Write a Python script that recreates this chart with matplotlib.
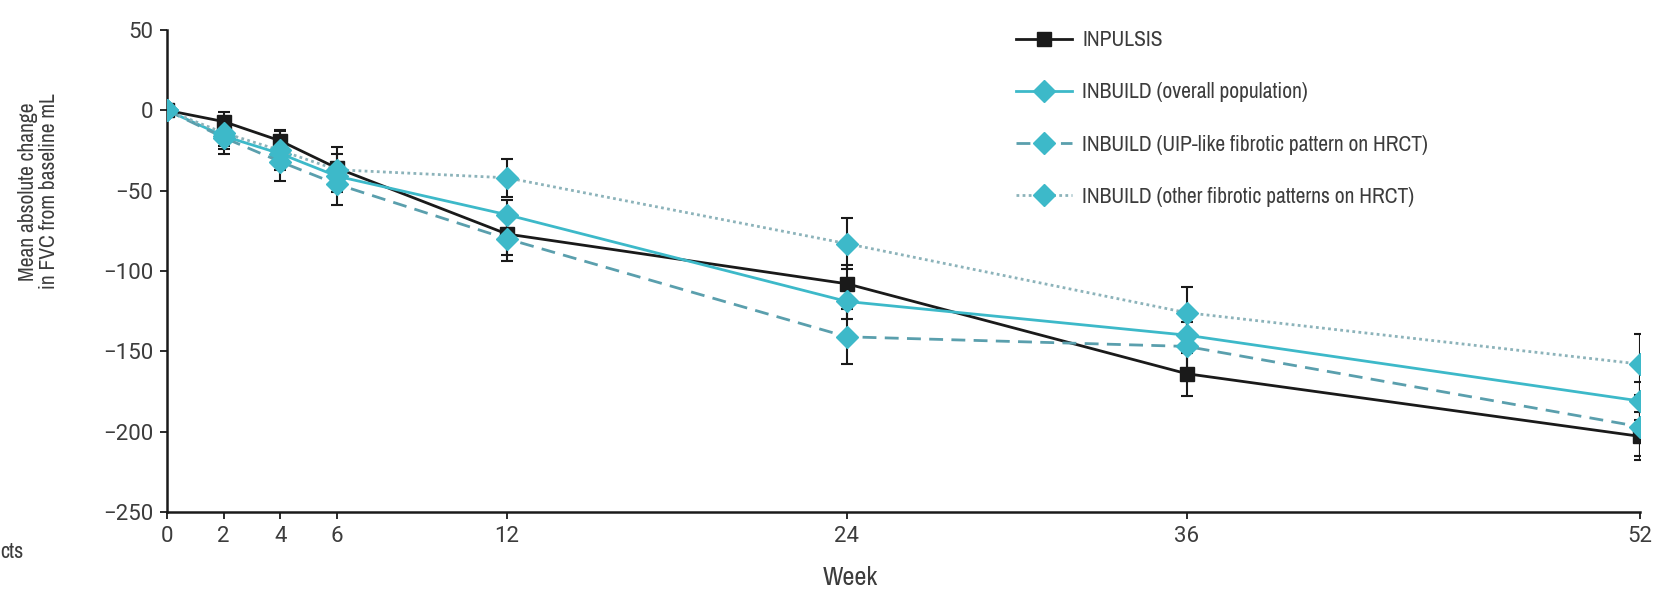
import matplotlib.pyplot as plt
from matplotlib import font_manager

# weeks and mean change in FVC (mL) with standard errors
weeks = [0, 2, 4, 6, 12, 24, 36, 52]

inpulsis = [0, -7, -19, -36, -77, -108, -164, -203]
inpulsis_se = [0, 6, 7, 9, 13, 12, 14, 15]

overall = [0, -16, -27, -41, -65, -119, -140, -181]
overall_se = [0, 6, 7, 8, 9, 11, 11, 12]

uip = [0, -17, -32, -46, -80, -141, -147, -197]
uip_se = [0, 10, 12, 13, 14, 17, 15, 18]

other = [0, -14, -25, -37, -42, -83, -126, -158]
other_se = [0, 10, 12, 14, 12, 16, 16, 19]

labels = ['INPULSIS',
          'INBUILD (overall population)',
          'INBUILD (UIP-like fibrotic pattern on HRCT)',
          'INBUILD (other fibrotic patterns on HRCT)']

xticks = [0, 2, 4, 6, 12, 24, 36, 52]
yticks = [50, 0, -50, -100, -150, -200, -250]
ytick_labels = ['50', '0', '\u221250', '\u2212100', '\u2212150', '\u2212200', '\u2212250']

cyan = '#3db9c9'
txt = '#3c3c3c'

# prefer a narrow face for the labels
names = sorted({f.name for f in font_manager.fontManager.ttflist})
cond = [n for n in names if 'Condensed' in n or 'Narrow' in n]
plt.rcParams['font.family'] = cond + ['Roboto', 'DejaVu Sans']
plt.rcParams['font.stretch'] = 'condensed'

fig = plt.figure(figsize=(16.64, 5.89), dpi=100)
ax = fig.add_axes([0.1004, 0.131, 0.8852, 0.818])

ebkw = dict(ecolor='#1a1a1a', elinewidth=1.5, capsize=4, capthick=1.5)

ax.errorbar(weeks, inpulsis, yerr=inpulsis_se, color='#1a1a1a', lw=2,
            marker='s', ms=10, mfc='#1a1a1a', mec='#1a1a1a', label=labels[0],
            zorder=3, **ebkw)
ax.errorbar(weeks, overall, yerr=overall_se, color=cyan, lw=2,
            marker='D', ms=11, mfc=cyan, mec=cyan, label=labels[1],
            zorder=4, **ebkw)
ax.errorbar(weeks, uip, yerr=uip_se, color='#5a9fad', lw=2, ls=(0, (5, 3)),
            marker='D', ms=11, mfc=cyan, mec=cyan, label=labels[2],
            zorder=4, **ebkw)
ax.errorbar(weeks, other, yerr=other_se, color='#8cb3ba', lw=2, ls=(0, (1, 1.2)),
            marker='D', ms=11, mfc=cyan, mec=cyan, label=labels[3],
            zorder=4, **ebkw)

ax.set_xlim(0, 52)
ax.set_ylim(-250, 50)
ax.set_xticks(xticks)
ax.set_yticks(yticks)
ax.set_yticklabels(ytick_labels)
ax.spines['top'].set_visible(False)
ax.spines['right'].set_visible(False)
for s in ('left', 'bottom'):
    ax.spines[s].set_linewidth(1.8)
    ax.spines[s].set_color('#1a1a1a')
ax.spines['left'].set_bounds(-250, 50)
ax.tick_params(axis='both', length=5, width=1.3, color='#1a1a1a',
               labelsize=16, labelcolor=txt, pad=5)
# numbers use a wider face
for t in ax.get_xticklabels() + ax.get_yticklabels():
    t.set_fontfamily(['Roboto', 'DejaVu Sans'])
    t.set_fontstretch('normal')

handles, lbls = ax.get_legend_handles_labels()
hs = [h[0] for h in handles]
leg = ax.legend(hs, lbls, loc='upper left', bbox_to_anchor=(0.563, 1.04),
                frameon=False, fontsize=15.5, labelspacing=1.5,
                handlelength=2.6, handletextpad=0.5, labelcolor=txt)

fig.text(0.023, 0.675, 'Mean absolute change\nin FVC from baseline mL',
         rotation=90, ha='center', va='center', fontsize=15.5, color=txt,
         linespacing=1.05)
fig.text(0.511, 0.019, 'Week', ha='center', va='center', fontsize=19, color=txt)
fig.text(0.0, 0.062, 'cts', ha='left', va='center', fontsize=16, color=txt)

fig.savefig('out.png', dpi=100)
